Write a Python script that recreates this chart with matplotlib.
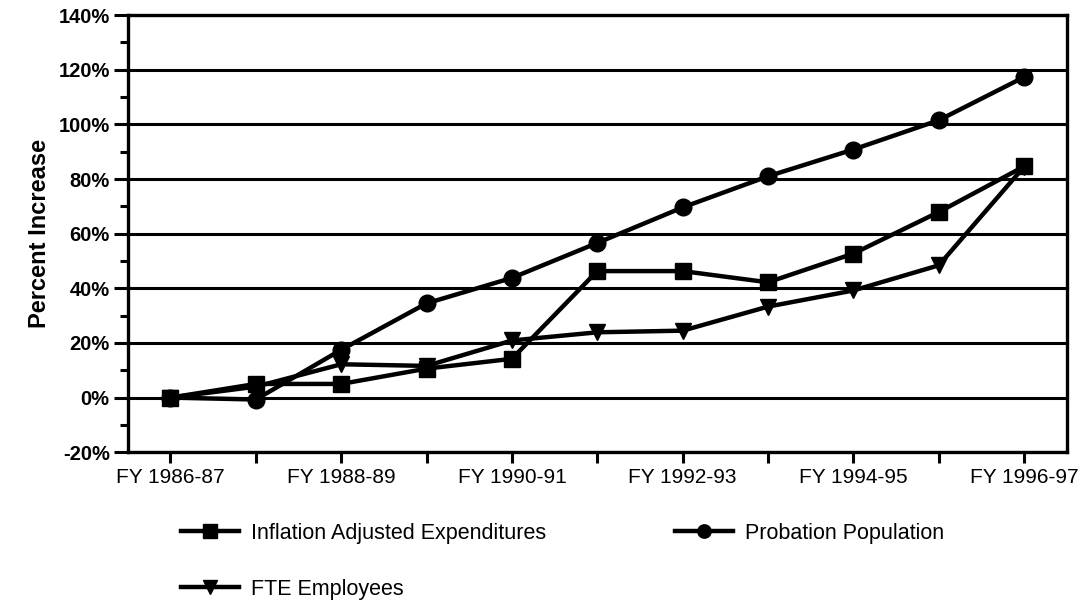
import matplotlib
matplotlib.use("Agg")
import matplotlib.pyplot as plt
from matplotlib.ticker import MultipleLocator, FuncFormatter

# fiscal years along the bottom, one point per year
years = ['FY 1986-87', 'FY 1987-88', 'FY 1988-89', 'FY 1989-90', 'FY 1990-91',
         'FY 1991-92', 'FY 1992-93', 'FY 1993-94', 'FY 1994-95', 'FY 1995-96',
         'FY 1996-97']

# cumulative percent increase since FY 1986-87
expenditures = [0, 5, 5, 10.6, 14.2, 46.3, 46.3, 42.2, 52.7, 67.9, 84.6]
population = [0, -0.7, 17.5, 34.5, 43.8, 56.6, 69.6, 81, 90.8, 101.5, 117.3]
fte = [0, 4, 12.2, 11.6, 20.9, 23.9, 24.5, 33.3, 39.2, 48.4, 84.5]

plt.rcParams['font.family'] = ['Liberation Sans', 'DejaVu Sans']

fig = plt.figure(figsize=(10.83, 6.03), dpi=100)
ax = fig.add_axes([0.118, 0.250, 0.867, 0.725])

x = list(range(len(years)))
style = dict(color='black', lw=3.2, markersize=12, clip_on=False, zorder=3)
l1, = ax.plot(x, expenditures, marker='s', label='Inflation Adjusted Expenditures', **style)
l2, = ax.plot(x, population, marker='o', label='Probation Population', **style)
l3, = ax.plot(x, fte, marker='v', label='FTE Employees', **style)

ax.set_xlim(-0.5, 10.5)
ax.set_ylim(-20, 140)
ax.yaxis.set_major_locator(MultipleLocator(20))
ax.yaxis.set_minor_locator(MultipleLocator(10))
ax.yaxis.set_major_formatter(FuncFormatter(lambda v, p: '%d%%' % v))
ax.grid(axis='y', which='major', color='black', lw=2.2)
ax.set_axisbelow(True)

ax.set_xticks(x)
ax.set_xticklabels([y if i % 2 == 0 else '' for i, y in enumerate(years)], fontsize=15)
for lab in ax.get_yticklabels():
    lab.set_fontweight('bold')
ax.tick_params(axis='y', which='major', labelsize=14.5, length=10, width=2.2, pad=3)
ax.tick_params(axis='y', which='minor', length=6, width=2.2)
ax.tick_params(axis='x', length=8, width=2.2, pad=3)
for s in ax.spines.values():
    s.set_linewidth(2.4)

ax.set_ylabel('Percent Increase', fontsize=17, fontweight='bold', labelpad=5)

# two columns, third entry wraps under the first
fig.legend([l1, l3, l2], [l1.get_label(), l3.get_label(), l2.get_label()],
           loc='upper left', bbox_to_anchor=(0.157, 0.151), ncol=2,
           frameon=False, fontsize=15.5, handlelength=2.7, handletextpad=0.55,
           labelspacing=1.62, columnspacing=6.0, borderpad=0, markerscale=0.8)

fig.savefig('out.png', dpi=100)
